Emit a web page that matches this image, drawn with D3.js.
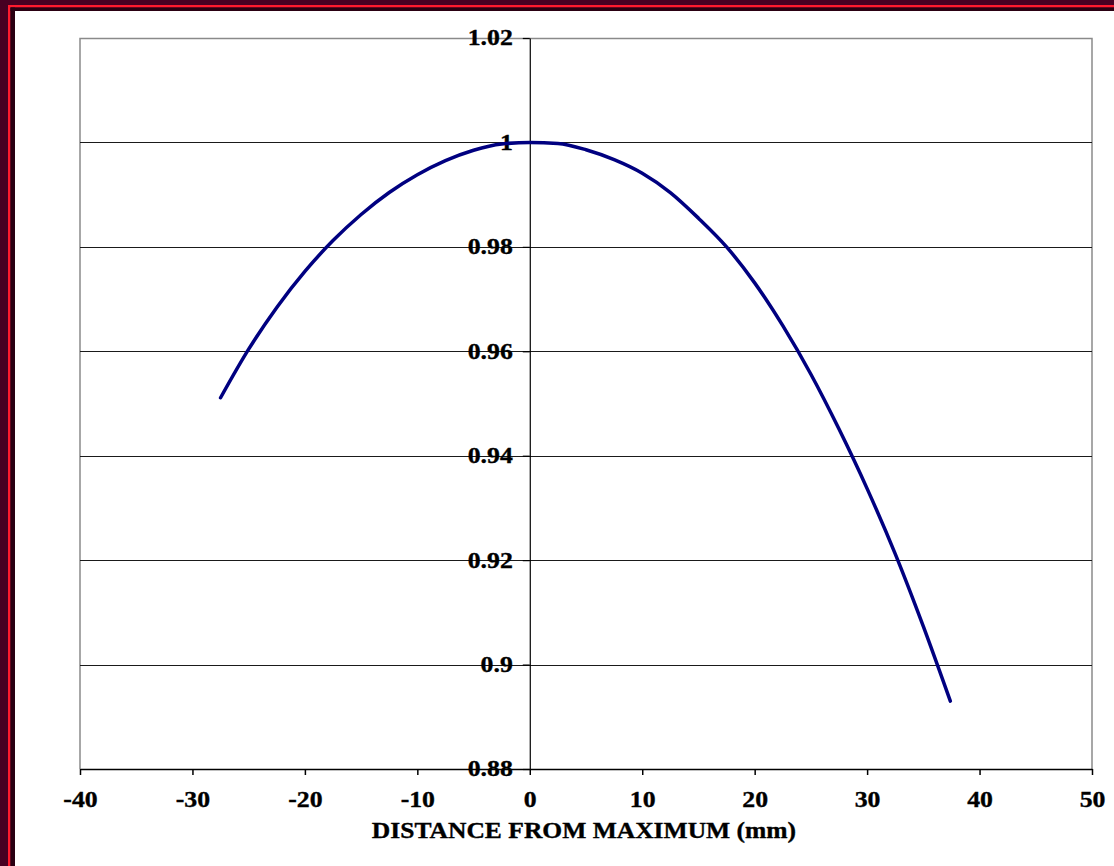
<!DOCTYPE html>
<html lang="en">
<head>
    <meta charset="UTF-8">
    <title>Distance from maximum</title>
    <style>
        body {
            margin: 0;
            background: #fff;
        }
        svg text {
            font-family: "Liberation Serif", "Times New Roman", serif;
            font-weight: bold;
            fill: #000;
            stroke: #000;
            stroke-width: 0.35px;
        }
        .grid line {
            stroke: #1a1a1a;
            stroke-width: 1px;
        }
        .curve {
            fill: none;
            stroke: #000080;
            stroke-width: 3.5px;
            stroke-linejoin: round;
            stroke-linecap: round;
        }
    </style>
    <script src="https://d3js.org/d3.v7.min.js"></script>
</head>
<body>
    <svg width="1114" height="866"></svg>
    <script>
        // readings taken off the curve, every 2.5 mm
        var distance = [-27.5, -25, -22.5, -20, -17.5, -15, -12.5, -10, -7.5, -5, -2.5,
                        0, 2.5, 5, 7.5, 10, 12.5, 15, 17.5, 20, 22.5, 25, 27.5, 30, 32.5, 35, 37.4];
        var relDose = [0.9511, 0.9604, 0.9684, 0.9753, 0.9812, 0.9862, 0.9904, 0.9938, 0.9965, 0.9985, 0.9997,
                       1.0, 0.9998, 0.9986, 0.9967, 0.9941, 0.9904, 0.9855, 0.9800, 0.9731, 0.9649, 0.9556, 0.9451, 0.9337, 0.9212, 0.9073, 0.8930];

        var xTicks = [-40, -30, -20, -10, 0, 10, 20, 30, 40, 50];
        var yTicks = [0.88, 0.9, 0.92, 0.94, 0.96, 0.98, 1, 1.02];
        var xTitle = "DISTANCE FROM MAXIMUM (mm)";

        var svg = d3.select("svg");

        // the font in the original is a bit wider than Liberation Serif
        function stretch(sel, k) {
            sel.each(function() {
                var w = this.getComputedTextLength();
                d3.select(this)
                    .attr("textLength", w * k)
                    .attr("lengthAdjust", "spacingAndGlyphs");
            });
        }

        // slide frame, top and left edges only
        var frame = svg.append("g");
        frame.append("rect").attr("x", 0).attr("y", 0).attr("width", 1114).attr("height", 11).attr("fill", "#470022");
        frame.append("rect").attr("x", 0).attr("y", 0).attr("width", 15).attr("height", 866).attr("fill", "#470022");
        frame.append("rect").attr("x", 8).attr("y", 5).attr("width", 1106).attr("height", 2.5).attr("fill", "#ff1a2e");
        frame.append("rect").attr("x", 8).attr("y", 5).attr("width", 2.5).attr("height", 861).attr("fill", "#ff1a2e");
        frame.append("rect").attr("x", 10.5).attr("y", 7.5).attr("width", 1103.5).attr("height", 3.5).attr("fill", "#2a0012");
        frame.append("rect").attr("x", 10.5).attr("y", 7.5).attr("width", 4.5).attr("height", 858.5).attr("fill", "#2a0012");

        var x = d3.scaleLinear().domain([-40, 50]).range([80, 1092]);
        var y = d3.scaleLinear().domain([0.88, 1.02]).range([769, 38]);

        // plot area outline
        svg.append("path")
            .attr("d", "M" + x(-40) + "," + y(0.88) + "V" + (y(1.02) + 0.5) + "H" + x(50) + "V" + y(0.88))
            .attr("fill", "none")
            .attr("stroke", "#8a8a8a")
            .attr("stroke-width", 1.5);

        // horizontal grid lines
        svg.append("g")
            .attr("class", "grid")
            .selectAll("line")
            .data(yTicks.filter(function(d) { return d > 0.88 && d < 1.02; }))
            .join("line")
            .attr("x1", x(-40))
            .attr("x2", x(50))
            .attr("y1", function(d) { return Math.round(y(d)) + 0.5; })
            .attr("y2", function(d) { return Math.round(y(d)) + 0.5; });

        // x axis along the bottom
        var xAxis = svg.append("g")
            .attr("transform", "translate(0," + y(0.88) + ")")
            .call(d3.axisBottom(x).tickValues(xTicks).tickSize(6).tickPadding(16).tickSizeOuter(0)
                .tickFormat(function(d) { return d; }));
        xAxis.selectAll("path, line").attr("stroke", "#000").attr("stroke-width", 1.5);
        xAxis.selectAll("text").style("font-size", "23px").attr("fill", "#000").call(stretch, 1.12);

        // y axis crosses at zero
        var yAxis = svg.append("g")
            .attr("transform", "translate(" + x(0) + ",0)")
            .call(d3.axisLeft(y).tickValues(yTicks).tickSize(7).tickPadding(10).tickSizeOuter(0)
                .tickFormat(function(d) { return d; }));
        yAxis.selectAll("path, line").attr("stroke", "#000").attr("stroke-width", 1.2);
        yAxis.selectAll("text").style("font-size", "23px").attr("fill", "#000").attr("dy", "0.3em").call(stretch, 1.12);

        svg.append("text")
            .attr("x", 584)
            .attr("y", 838)
            .attr("text-anchor", "middle")
            .style("font-size", "23px")
            .text(xTitle)
            .call(stretch, 1.11);

        var line = d3.line()
            .x(function(d) { return x(d[0]); })
            .y(function(d) { return y(d[1]); })
            .curve(d3.curveMonotoneX);

        svg.append("path")
            .attr("class", "curve")
            .attr("d", line(d3.zip(distance, relDose)));
    </script>
</body>
</html>
